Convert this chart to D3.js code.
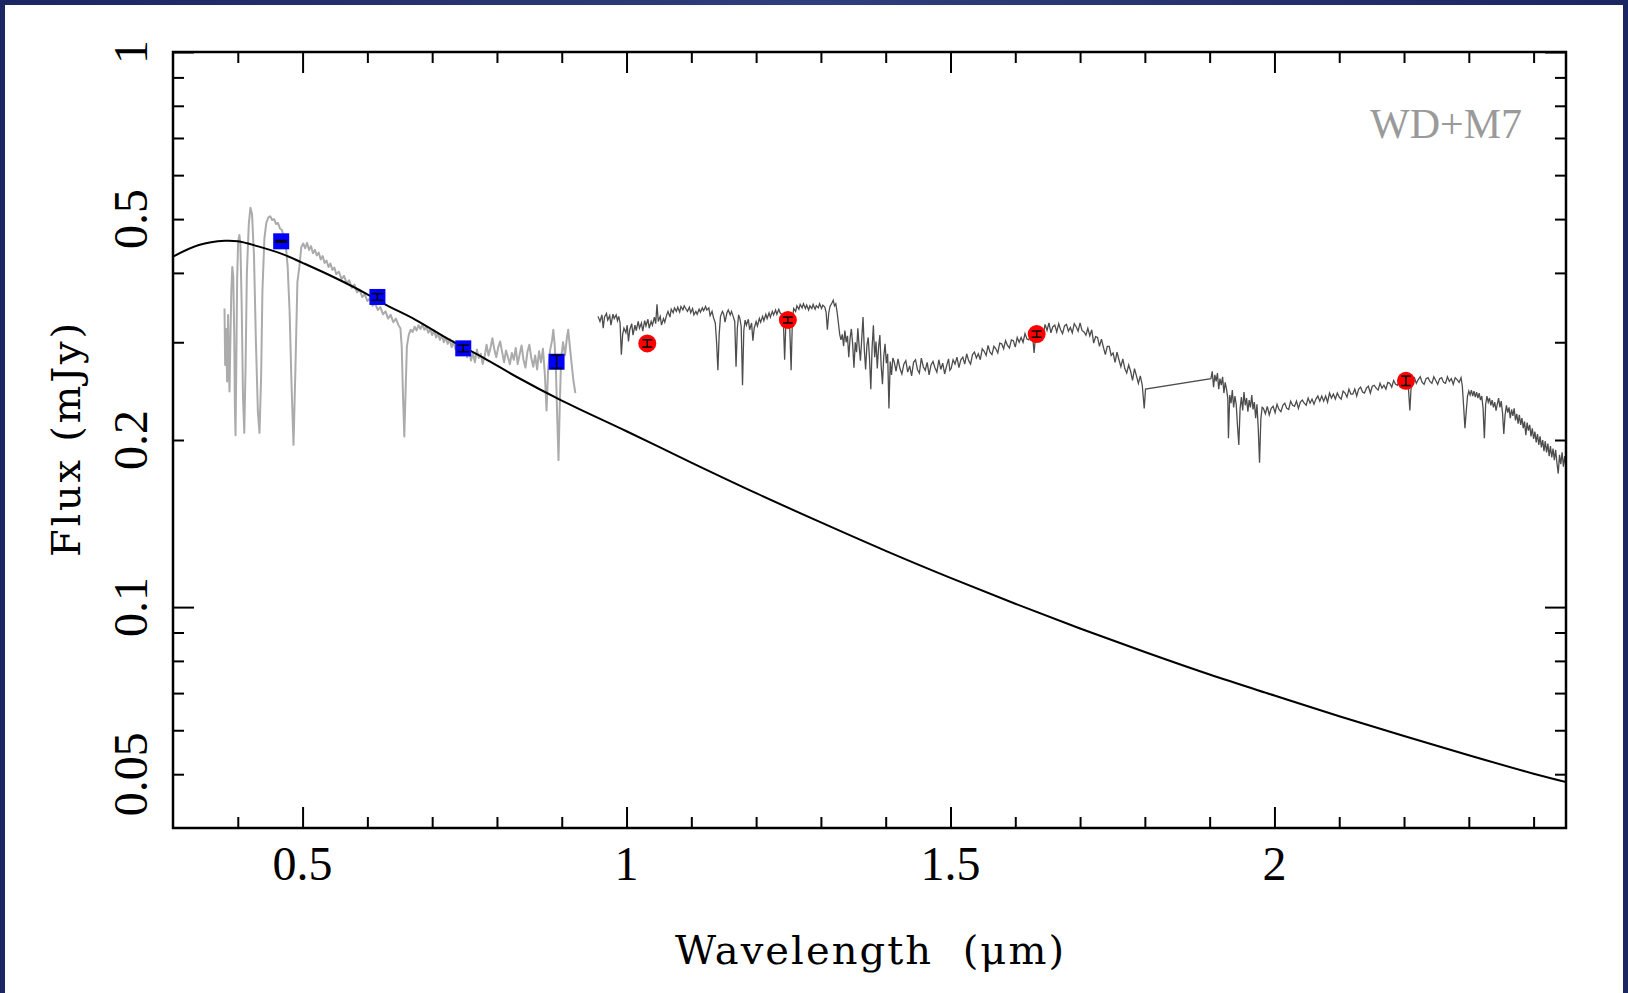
<!DOCTYPE html>
<html>
<head>
<meta charset="utf-8">
<script src="https://cdn.jsdelivr.net/npm/d3@7"></script>
<style>
body { margin: 0; overflow: hidden; background: #1d2966; }
</style>
</head>
<body>
<div id="chart"></div>
<script>
// axis ticks and labels
var xMajorTicks = [0.5, 1, 1.5, 2];
var xMinorTicks = [0.4, 0.6, 0.7, 0.8, 0.9, 1.1, 1.2, 1.3, 1.4, 1.6, 1.7, 1.8, 1.9, 2.1, 2.2, 2.3, 2.4];
var yMajorTicks = [1, 0.1];
var yMinorTicks = [0.9, 0.8, 0.7, 0.6, 0.5, 0.4, 0.3, 0.2, 0.09, 0.08, 0.07, 0.06, 0.05];
var xTickLabels = [0.5, 1, 1.5, 2];
var yTickLabels = [1, 0.5, 0.2, 0.1, 0.05];

// white dwarf model
var modelWave = [0.30, 0.34, 0.38, 0.40, 0.43, 0.47, 0.50, 0.55, 0.60, 0.625, 0.675, 0.725, 0.78, 0.83, 0.90, 1.00, 1.10, 1.20, 1.30, 1.40, 1.50, 1.60, 1.70, 1.80, 1.90, 2.00, 2.10, 2.20, 2.30, 2.40, 2.45];
var modelFlux = [0.428, 0.449, 0.457, 0.456, 0.447, 0.432, 0.417, 0.392, 0.366, 0.352, 0.329, 0.304, 0.281, 0.260, 0.2355, 0.2074, 0.1821, 0.1604, 0.1421, 0.1263, 0.1129, 0.1014, 0.0915, 0.0830, 0.0756, 0.0693, 0.0636, 0.0586, 0.0541, 0.0501, 0.0484];

// optical photometry (blue squares)
var photWave = [0.467, 0.6155, 0.748, 0.892];
var photFlux = [0.456, 0.362, 0.2925, 0.2767];
var photErr = [0.0015, 0.005, 0.004, 0.0075];

// near-IR photometry (red circles)
var nirWave = [1.032, 1.249, 1.633, 2.203];
var nirFlux = [0.2986, 0.329, 0.3103, 0.2557];
var nirErr = [0.0045, 0.004, 0.004, 0.005];

// optical spectrum [wavelength, flux]
var optSpectrum = [
[0.3795,0.345],[0.3805,0.273],[0.382,0.317],[0.3835,0.255],[0.385,0.336],[0.3865,0.262],[0.3872,0.2445],[0.3887,0.309],[0.390,0.37],[0.3915,0.41],
[0.393,0.395],[0.3945,0.31],[0.3955,0.23],[0.3965,0.204],[0.3975,0.26],[0.399,0.39],[0.4005,0.455],[0.4025,0.468],[0.404,0.45],[0.406,0.35],
[0.408,0.24],[0.410,0.206],[0.412,0.27],[0.414,0.40],[0.417,0.49],[0.4195,0.524],[0.422,0.51],[0.425,0.43],[0.428,0.30],[0.431,0.225],
[0.4335,0.206],[0.436,0.26],[0.438,0.37],[0.441,0.46],[0.444,0.492],[0.447,0.503],[0.450,0.506],[0.453,0.498],[0.456,0.50],[0.459,0.49],
[0.462,0.492],[0.465,0.481],[0.468,0.478],[0.471,0.465],[0.474,0.45],[0.477,0.41],[0.480,0.34],[0.483,0.25],[0.486,0.196],[0.489,0.27],
[0.492,0.385],[0.495,0.41],[0.498,0.445],[0.501,0.452],[0.504,0.443],[0.507,0.453],[0.510,0.44],[0.513,0.447],[0.516,0.434],[0.519,0.44],
[0.522,0.43],[0.525,0.435],[0.528,0.423],[0.531,0.429],[0.534,0.417],[0.537,0.421],[0.540,0.41],[0.543,0.416],[0.546,0.405],[0.549,0.409],
[0.552,0.398],[0.556,0.402],[0.560,0.39],[0.564,0.395],[0.568,0.383],[0.572,0.388],[0.576,0.376],[0.580,0.381],[0.584,0.369],[0.588,0.373],
[0.592,0.362],[0.596,0.366],[0.600,0.356],[0.604,0.36],[0.608,0.349],[0.612,0.353],[0.616,0.343],[0.620,0.347],[0.624,0.337],[0.628,0.341],
[0.632,0.331],[0.636,0.336],[0.640,0.326],[0.644,0.331],[0.648,0.322],[0.651,0.318],[0.653,0.295],[0.655,0.24],[0.657,0.203],[0.659,0.245],
[0.661,0.295],[0.664,0.31],[0.667,0.316],[0.670,0.313],[0.673,0.32],[0.676,0.315],[0.679,0.322],[0.682,0.317],[0.685,0.323],[0.688,0.316],
[0.691,0.32],[0.694,0.312],[0.697,0.317],[0.700,0.309],[0.703,0.315],[0.706,0.306],[0.709,0.311],[0.712,0.303],[0.715,0.309],[0.718,0.3],
[0.721,0.306],[0.724,0.298],[0.727,0.304],[0.730,0.294],[0.733,0.301],[0.736,0.291],[0.739,0.298],[0.742,0.287],[0.745,0.295],[0.748,0.285],
[0.751,0.292],[0.754,0.282],[0.757,0.29],[0.760,0.278],[0.763,0.287],[0.766,0.276],[0.769,0.291],[0.772,0.281],[0.775,0.286],[0.778,0.274],
[0.781,0.283],[0.784,0.297],[0.787,0.284],[0.790,0.293],[0.793,0.305],[0.796,0.291],[0.799,0.282],[0.802,0.294],[0.805,0.301],[0.808,0.288],
[0.811,0.276],[0.814,0.29],[0.817,0.282],[0.820,0.274],[0.823,0.287],[0.826,0.279],[0.829,0.293],[0.832,0.274],[0.835,0.285],[0.838,0.296],
[0.841,0.279],[0.844,0.27],[0.847,0.288],[0.850,0.297],[0.853,0.281],[0.856,0.271],[0.859,0.284],[0.862,0.268],[0.865,0.289],[0.868,0.276],
[0.871,0.292],[0.874,0.262],[0.8765,0.226],[0.879,0.268],[0.882,0.29],[0.885,0.302],[0.887,0.316],[0.889,0.298],[0.891,0.268],[0.893,0.22],
[0.895,0.184],[0.897,0.232],[0.899,0.28],[0.902,0.3],[0.905,0.284],[0.908,0.306],[0.910,0.316],[0.912,0.299],[0.915,0.276],[0.918,0.256],[0.921,0.243]
];

// near-IR spectrum [wavelength, flux]
var irSpectrum = [
[0.956,0.334],[0.959,0.327],[0.962,0.336],[0.964,0.318],[0.966,0.333],[0.969,0.338],[0.971,0.329],[0.974,0.335],[0.976,0.322],[0.979,0.337],
[0.981,0.331],[0.984,0.336],[0.986,0.328],[0.988,0.334],[0.990,0.325],[0.992,0.285],[0.994,0.31],[0.996,0.318],[0.999,0.312],[1.001,0.322],
[1.003,0.301],[1.005,0.316],[1.008,0.324],[1.010,0.309],[1.013,0.322],[1.015,0.315],[1.018,0.327],[1.020,0.318],[1.023,0.325],[1.025,0.314],
[1.028,0.328],[1.030,0.321],[1.033,0.33],[1.035,0.318],[1.038,0.327],[1.040,0.322],[1.043,0.333],[1.045,0.324],[1.047,0.351],[1.049,0.327],
[1.052,0.334],[1.054,0.322],[1.057,0.331],[1.059,0.326],[1.062,0.336],[1.064,0.341],[1.067,0.333],[1.069,0.344],[1.072,0.339],[1.074,0.346],
[1.077,0.341],[1.079,0.347],[1.082,0.34],[1.084,0.348],[1.087,0.343],[1.089,0.349],[1.092,0.344],[1.094,0.341],[1.097,0.347],[1.099,0.339],
[1.102,0.345],[1.104,0.336],[1.107,0.341],[1.109,0.337],[1.112,0.344],[1.114,0.34],[1.117,0.346],[1.119,0.342],[1.122,0.348],[1.124,0.343],
[1.127,0.346],[1.129,0.335],[1.132,0.341],[1.134,0.333],[1.137,0.325],[1.139,0.30],[1.141,0.267],[1.143,0.31],[1.145,0.334],[1.148,0.341],
[1.150,0.337],[1.152,0.326],[1.155,0.339],[1.157,0.343],[1.160,0.336],[1.162,0.341],[1.165,0.333],[1.167,0.327],[1.169,0.271],[1.171,0.318],
[1.173,0.336],[1.175,0.331],[1.177,0.32],[1.179,0.251],[1.181,0.315],[1.183,0.329],[1.185,0.322],[1.188,0.33],[1.190,0.316],[1.193,0.325],
[1.195,0.302],[1.197,0.318],[1.200,0.327],[1.202,0.321],[1.205,0.331],[1.207,0.326],[1.210,0.334],[1.212,0.328],[1.215,0.337],[1.217,0.331],
[1.220,0.339],[1.222,0.333],[1.225,0.341],[1.227,0.336],[1.230,0.343],[1.232,0.337],[1.235,0.344],[1.237,0.339],[1.240,0.336],[1.242,0.33],
[1.244,0.279],[1.246,0.326],[1.248,0.334],[1.250,0.33],[1.252,0.316],[1.254,0.267],[1.256,0.33],[1.258,0.345],[1.261,0.341],[1.263,0.349],
[1.266,0.344],[1.268,0.351],[1.271,0.346],[1.273,0.352],[1.276,0.345],[1.278,0.35],[1.281,0.343],[1.283,0.349],[1.286,0.345],[1.288,0.351],
[1.291,0.344],[1.293,0.349],[1.296,0.346],[1.298,0.352],[1.301,0.345],[1.303,0.35],[1.306,0.347],[1.308,0.34],[1.310,0.316],[1.312,0.338],
[1.314,0.348],[1.317,0.353],[1.319,0.357],[1.321,0.349],[1.323,0.352],[1.325,0.34],[1.327,0.325],[1.329,0.31],[1.331,0.303],
[1.333,0.310],[1.335,0.295],[1.337,0.315],[1.339,0.300],[1.341,0.308],[1.343,0.282],[1.345,0.305],[1.347,0.317],[1.349,0.298],[1.351,0.270],
[1.353,0.300],[1.355,0.288],[1.357,0.318],[1.359,0.295],[1.361,0.278],[1.363,0.304],[1.365,0.333],[1.367,0.291],[1.369,0.268],[1.371,0.296],
[1.373,0.306],[1.375,0.281],[1.377,0.247],[1.379,0.293],[1.381,0.322],[1.383,0.282],[1.385,0.301],[1.387,0.269],[1.389,0.294],[1.391,0.309],
[1.393,0.272],[1.395,0.252],[1.397,0.283],[1.399,0.298],[1.401,0.275],[1.403,0.286],[1.405,0.228],[1.407,0.277],[1.409,0.262],[1.411,0.281],
[1.413,0.277],[1.416,0.266],[1.419,0.280],[1.422,0.269],[1.425,0.263],[1.428,0.274],[1.431,0.278],[1.434,0.265],[1.437,0.272],[1.440,0.261],
[1.443,0.276],[1.446,0.279],[1.449,0.268],[1.452,0.264],[1.455,0.281],[1.458,0.271],[1.461,0.267],[1.464,0.276],[1.467,0.262],[1.470,0.273],
[1.473,0.277],[1.476,0.270],[1.479,0.265],[1.482,0.279],[1.485,0.268],[1.488,0.275],[1.491,0.263],[1.494,0.272],[1.497,0.280],[1.499,0.267],
[1.501,0.269],[1.504,0.279],[1.507,0.274],[1.510,0.282],[1.513,0.270],[1.516,0.279],[1.519,0.282],[1.522,0.274],[1.525,0.286],[1.528,0.278],
[1.531,0.274],[1.534,0.285],[1.537,0.288],[1.540,0.281],[1.543,0.286],[1.546,0.279],[1.549,0.292],[1.552,0.289],[1.555,0.284],[1.558,0.296],
[1.561,0.288],[1.564,0.285],[1.567,0.295],[1.570,0.292],[1.573,0.287],[1.576,0.299],[1.579,0.298],[1.582,0.292],[1.585,0.302],[1.588,0.296],
[1.591,0.293],[1.594,0.303],[1.597,0.302],[1.600,0.294],[1.603,0.306],[1.606,0.300],[1.609,0.306],[1.612,0.300],[1.615,0.311],[1.618,0.304],
[1.621,0.303],[1.624,0.311],[1.627,0.306],[1.629,0.287],[1.631,0.305],[1.634,0.311],[1.637,0.307],[1.640,0.314],[1.643,0.309],
[1.646,0.323],[1.649,0.315],[1.652,0.325],[1.655,0.312],[1.658,0.320],[1.661,0.322],[1.664,0.313],[1.667,0.324],[1.670,0.316],[1.673,0.311],
[1.676,0.321],[1.679,0.323],[1.682,0.314],[1.685,0.319],[1.688,0.312],[1.691,0.324],[1.694,0.320],[1.697,0.314],[1.700,0.325],[1.703,0.315],
[1.706,0.313],[1.709,0.309],[1.712,0.318],[1.715,0.308],[1.718,0.316],[1.721,0.299],[1.724,0.307],[1.727,0.306],[1.730,0.295],[1.733,0.304],
[1.736,0.294],[1.739,0.285],[1.742,0.295],[1.745,0.295],[1.748,0.284],[1.751,0.287],[1.754,0.276],[1.757,0.288],[1.760,0.279],[1.763,0.271],
[1.766,0.280],[1.769,0.269],[1.772,0.264],[1.775,0.273],[1.778,0.266],[1.781,0.256],[1.784,0.269],[1.787,0.261],[1.790,0.253],[1.793,0.261],
[1.796,0.251],[1.799,0.228],[1.801,0.247],[1.902,0.258],[1.904,0.266],[1.906,0.249],[1.908,0.262],
[1.910,0.255],[1.912,0.264],[1.914,0.247],[1.916,0.258],[1.918,0.251],[1.920,0.26],[1.922,0.243],[1.924,0.254],[1.926,0.247],[1.928,0.238],
[1.929,0.2015],[1.931,0.241],[1.933,0.233],[1.935,0.246],[1.937,0.229],[1.939,0.24],[1.941,0.232],[1.943,0.212],[1.945,0.196],[1.947,0.228],
[1.949,0.239],[1.951,0.226],[1.953,0.244],[1.955,0.231],[1.957,0.238],[1.959,0.225],[1.961,0.236],[1.963,0.229],[1.965,0.241],[1.967,0.227],
[1.969,0.234],[1.971,0.219],[1.973,0.232],[1.975,0.21],[1.977,0.182],[1.979,0.218],[1.981,0.229],
[1.983,0.228],[1.986,0.223],[1.989,0.230],[1.992,0.222],[1.995,0.228],[1.998,0.230],[2.001,0.224],[2.004,0.232],[2.007,0.227],[2.010,0.225],
[2.013,0.231],[2.016,0.233],[2.019,0.228],[2.022,0.227],[2.025,0.235],[2.028,0.231],[2.031,0.230],[2.034,0.235],[2.037,0.228],[2.040,0.234],
[2.043,0.236],[2.046,0.233],[2.049,0.231],[2.052,0.238],[2.055,0.233],[2.058,0.237],[2.061,0.232],[2.064,0.237],[2.067,0.240],[2.070,0.235],
[2.073,0.240],[2.076,0.235],[2.079,0.240],[2.082,0.234],[2.085,0.243],[2.088,0.238],[2.091,0.242],[2.094,0.237],[2.097,0.243],[2.100,0.239],
[2.103,0.237],[2.106,0.245],[2.109,0.243],[2.112,0.239],[2.115,0.247],[2.118,0.242],[2.121,0.242],[2.124,0.247],[2.127,0.240],[2.130,0.247],
[2.133,0.249],[2.136,0.244],[2.139,0.243],[2.142,0.248],[2.145,0.250],[2.148,0.243],[2.151,0.250],[2.154,0.251],[2.157,0.248],[2.160,0.246],
[2.163,0.253],[2.166,0.248],[2.169,0.251],[2.172,0.247],[2.175,0.254],[2.178,0.253],[2.181,0.249],[2.184,0.256],[2.187,0.252],[2.190,0.251],
[2.193,0.256],[2.196,0.251],[2.199,0.256],[2.202,0.251],[2.205,0.256],[2.207,0.246],[2.209,0.226],[2.211,0.25],[2.213,0.257],
[2.216,0.259],[2.219,0.253],[2.222,0.257],[2.225,0.260],[2.228,0.254],[2.231,0.252],[2.234,0.258],[2.237,0.259],[2.240,0.255],[2.243,0.253],
[2.246,0.260],[2.249,0.256],[2.252,0.252],[2.255,0.258],[2.258,0.259],[2.261,0.254],[2.264,0.253],[2.267,0.260],[2.270,0.255],[2.273,0.258],
[2.276,0.252],[2.279,0.259],[2.282,0.257],[2.285,0.254],[2.288,0.259],
[2.290,0.25],[2.292,0.23],[2.294,0.21],[2.296,0.225],[2.298,0.24],[2.300,0.245],[2.302,0.241],[2.304,0.246],[2.306,0.24],[2.308,0.245],
[2.310,0.239],[2.312,0.244],[2.314,0.238],[2.316,0.243],[2.318,0.236],[2.320,0.24],[2.322,0.228],[2.324,0.2015],[2.326,0.232],[2.328,0.24],
[2.330,0.234],[2.332,0.238],[2.334,0.231],[2.336,0.236],[2.338,0.229],[2.340,0.234],[2.342,0.226],[2.344,0.232],[2.346,0.238],[2.348,0.229],
[2.350,0.235],[2.352,0.224],[2.354,0.205],[2.356,0.222],[2.358,0.231],[2.360,0.224],[2.362,0.229],[2.364,0.219],[2.366,0.227],[2.368,0.221],
[2.370,0.228],[2.372,0.217],[2.374,0.223],[2.376,0.214],[2.378,0.222],[2.380,0.213],[2.382,0.219],[2.384,0.21],[2.386,0.216],[2.388,0.204],
[2.390,0.215],[2.392,0.208],[2.394,0.213],[2.396,0.203],[2.398,0.21],[2.400,0.201],[2.402,0.207],[2.404,0.198],[2.406,0.205],[2.408,0.196],
[2.410,0.203],[2.412,0.194],[2.414,0.2],[2.416,0.191],[2.418,0.199],[2.420,0.19],[2.422,0.197],[2.424,0.187],[2.426,0.195],[2.428,0.186],
[2.430,0.193],[2.432,0.184],[2.434,0.192],[2.436,0.182],[2.438,0.174],[2.440,0.188],[2.442,0.181],[2.444,0.19],[2.446,0.179],[2.448,0.187],
[2.450,0.178],[2.452,0.185]
];

document.addEventListener('DOMContentLoaded', function () {
    drawChart();
});

function drawChart() {
    var W = 1628, H = 993;
    var margin = { top: 52, right: 62, bottom: 165, left: 173 },
        width = W - margin.left - margin.right,
        height = H - margin.top - margin.bottom;

    var svg = d3.select("#chart")
        .append("svg")
        .attr("width", W)
        .attr("height", H);

    // dark blue frame round a white page
    var grad = svg.append("defs").append("linearGradient")
        .attr("id", "frameGrad")
        .attr("x1", "0%").attr("x2", "100%");
    grad.append("stop").attr("offset", "0%").attr("stop-color", "#1b2662");
    grad.append("stop").attr("offset", "50%").attr("stop-color", "#2f3e7c");
    grad.append("stop").attr("offset", "100%").attr("stop-color", "#1b2662");
    svg.append("rect").attr("width", W).attr("height", H).attr("fill", "url(#frameGrad)");
    svg.append("rect").attr("x", 5).attr("y", 5).attr("width", W - 10).attr("height", H - 5).attr("fill", "#fff");

    svg.select("defs").append("clipPath").attr("id", "plotClip")
        .append("rect").attr("width", width).attr("height", height);

    var chart = svg.append("g")
        .attr("transform", "translate(" + margin.left + "," + margin.top + ")");

    var x = d3.scaleLinear().domain([0.3, 2.45]).range([0, width]);
    var y = d3.scaleLog().domain([0.04, 1]).range([height, 0]);

    // ticks on all four sides, pointing inwards
    function drawTicks(axis, translate, values, size) {
        var g = chart.append("g")
            .attr("transform", translate)
            .call(axis.tickValues(values).tickSize(-size).tickFormat(""));
        g.select(".domain").remove();
        g.selectAll("line").attr("stroke", "#000").attr("stroke-width", 2);
    }
    drawTicks(d3.axisBottom(x), "translate(0," + height + ")", xMajorTicks, 21);
    drawTicks(d3.axisBottom(x), "translate(0," + height + ")", xMinorTicks, 11);
    drawTicks(d3.axisTop(x), "translate(0,0)", xMajorTicks, 21);
    drawTicks(d3.axisTop(x), "translate(0,0)", xMinorTicks, 11);
    drawTicks(d3.axisLeft(y), "translate(0,0)", yMajorTicks, 21);
    drawTicks(d3.axisLeft(y), "translate(0,0)", yMinorTicks, 11);
    drawTicks(d3.axisRight(y), "translate(" + width + ",0)", yMajorTicks, 21);
    drawTicks(d3.axisRight(y), "translate(" + width + ",0)", yMinorTicks, 11);

    var plot = chart.append("g").attr("clip-path", "url(#plotClip)");

    var spectrumLine = d3.line()
        .x(function (d) { return x(d[0]); })
        .y(function (d) { return y(d[1]); });

    plot.append("path")
        .datum(optSpectrum)
        .attr("d", spectrumLine)
        .attr("fill", "none")
        .attr("stroke", "#ababab")
        .attr("stroke-width", 2)
        .attr("stroke-linejoin", "round");

    plot.append("path")
        .datum(irSpectrum)
        .attr("d", spectrumLine)
        .attr("fill", "none")
        .attr("stroke", "#4d4d4d")
        .attr("stroke-width", 1.3);

    var modelLine = d3.line()
        .curve(d3.curveCatmullRom)
        .x(function (d, i) { return x(modelWave[i]); })
        .y(function (d) { return y(d); });
    plot.append("path")
        .datum(modelFlux)
        .attr("d", modelLine)
        .attr("fill", "none")
        .attr("stroke", "#000")
        .attr("stroke-width", 2);

    // photometry markers with error bars
    var sq = 16;
    plot.selectAll(".phot")
        .data(photWave)
        .enter()
        .append("rect")
        .attr("class", "phot")
        .attr("x", function (d) { return x(d) - sq / 2; })
        .attr("y", function (d, i) { return y(photFlux[i]) - sq / 2; })
        .attr("width", sq)
        .attr("height", sq)
        .attr("fill", "#0000ff");

    plot.selectAll(".nir")
        .data(nirWave)
        .enter()
        .append("circle")
        .attr("class", "nir")
        .attr("cx", function (d) { return x(d); })
        .attr("cy", function (d, i) { return y(nirFlux[i]); })
        .attr("r", 9)
        .attr("fill", "#ff0000");

    function errorBars(waves, fluxes, errs, cap) {
        var g = plot.append("g").attr("stroke", "#000").attr("stroke-width", 1.5);
        for (var i = 0; i < waves.length; i++) {
            var cx = x(waves[i]);
            var lo = y(fluxes[i] - errs[i]);
            var hi = y(fluxes[i] + errs[i]);
            g.append("line").attr("x1", cx).attr("x2", cx).attr("y1", lo).attr("y2", hi);
            g.append("line").attr("x1", cx - cap / 2).attr("x2", cx + cap / 2).attr("y1", lo).attr("y2", lo);
            g.append("line").attr("x1", cx - cap / 2).attr("x2", cx + cap / 2).attr("y1", hi).attr("y2", hi);
        }
    }
    errorBars(photWave, photFlux, photErr, 12);
    errorBars(nirWave, nirFlux, nirErr, 10);

    // frame
    chart.append("rect")
        .attr("width", width)
        .attr("height", height)
        .attr("fill", "none")
        .attr("stroke", "#000")
        .attr("stroke-width", 2.5);

    // tick labels
    chart.selectAll(".xlab")
        .data(xTickLabels)
        .enter()
        .append("text")
        .attr("x", function (d) { return x(d); })
        .attr("y", height + 52)
        .attr("text-anchor", "middle")
        .style("font-family", "'Liberation Serif', serif")
        .style("font-size", "48px")
        .text(function (d) { return d; });

    chart.selectAll(".ylab")
        .data(yTickLabels)
        .enter()
        .append("text")
        .attr("transform", function (d) { return "translate(-26," + y(d) + ") rotate(-90)"; })
        .attr("text-anchor", "middle")
        .style("font-family", "'Liberation Serif', serif")
        .style("font-size", "48px")
        .text(function (d) { return d; });

    // axis titles
    chart.append("text")
        .attr("x", width / 2)
        .attr("y", height + 136)
        .attr("text-anchor", "middle")
        .attr("textLength", 389)
        .attr("lengthAdjust", "spacing")
        .style("font-family", "'DejaVu Serif', serif")
        .style("font-size", "40px")
        .style("white-space", "pre")
        .text("Wavelength  (\u03bcm)");

    chart.append("text")
        .attr("transform", "translate(-93," + (height / 2) + ") rotate(-90)")
        .attr("text-anchor", "middle")
        .attr("textLength", 234)
        .attr("lengthAdjust", "spacing")
        .style("font-family", "'DejaVu Serif', serif")
        .style("font-size", "40px")
        .style("white-space", "pre")
        .text("Flux (mJy)");

    chart.append("text")
        .attr("x", 1349)
        .attr("y", 86)
        .attr("text-anchor", "end")
        .attr("fill", "#9a9a9a")
        .style("font-family", "'Liberation Serif', serif")
        .style("font-size", "42px")
        .text("WD+M7");
}
</script>
</body>
</html>
